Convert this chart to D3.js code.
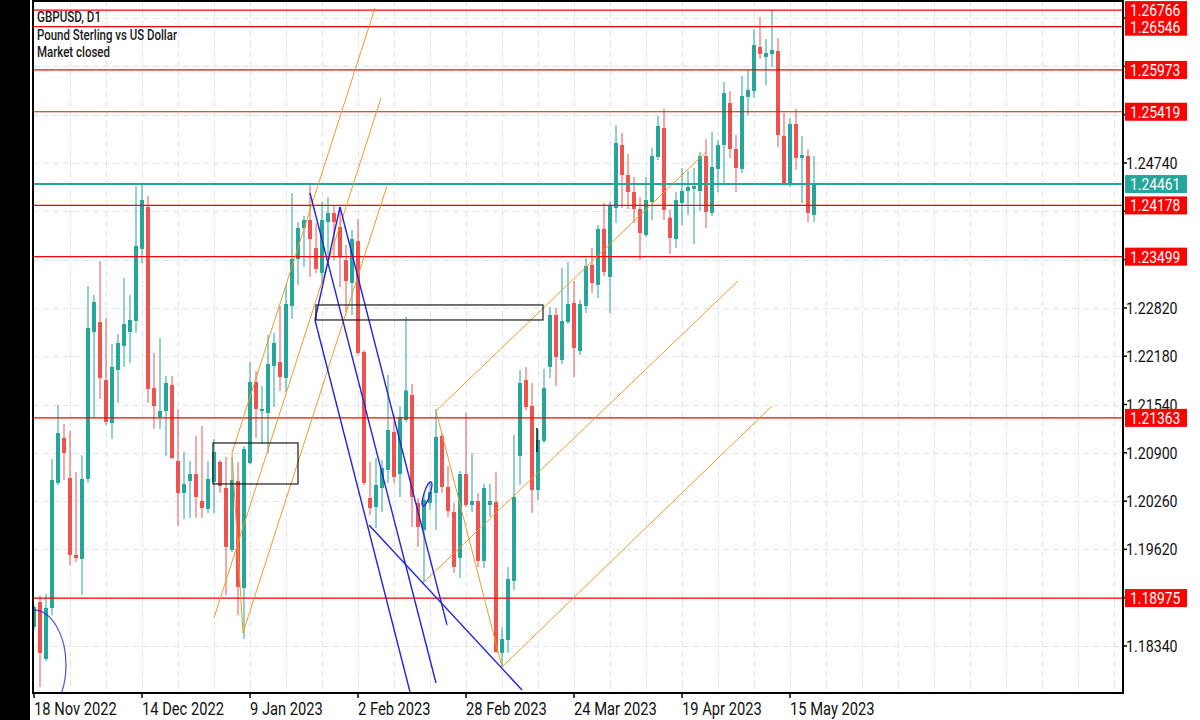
<!DOCTYPE html>
<html>
<head>
<meta charset="utf-8">
<script src="https://cdn.jsdelivr.net/npm/d3@7"></script>
<style>
  html, body { margin: 0; padding: 0; background: #fff; }
  svg { display: block; font-family: Roboto, "Noto Sans", sans-serif; }
</style>
</head>
<body>
<svg id="chart" width="1200" height="720"></svg>
<script>
// GBPUSD daily bars, first bar = Fri 18 Nov 2022, one bar per weekday
const opens = [
  1.18592, 1.18923, 1.18168, 1.18844, 1.20500, 1.21097, 1.20567, 1.19546, 1.19493, 1.20553,
  1.22501, 1.22633, 1.21865, 1.21295, 1.21998, 1.22316, 1.22501, 1.22647, 1.23601, 1.24157,
  1.21759, 1.21375, 1.21454, 1.21799, 1.20792, 1.20368, 1.20527, 1.20619, 1.20262, 1.20156,
  1.20514, 1.20778, 1.20434, 1.19613, 1.20527, 1.19109, 1.20765, 1.21838, 1.21454, 1.21428,
  1.22050, 1.22103, 1.21892, 1.22845, 1.23468, 1.23879, 1.23985, 1.23614, 1.23283, 1.23958,
  1.24078, 1.23892, 1.23455, 1.23150, 1.23707, 1.22236, 1.20302, 1.20182, 1.20434, 1.20672,
  1.21176, 1.20619, 1.21335, 1.21666, 1.20235, 1.19878, 1.20235, 1.20368, 1.21123, 1.20447,
  1.20116, 1.19507, 1.20619, 1.20209, 1.20262, 1.19467, 1.20209, 1.20248, 1.18248, 1.18420,
  1.19202, 1.20858, 1.21865, 1.21520, 1.20408, 1.21057, 1.22037, 1.22726, 1.22130, 1.22633,
  1.22885, 1.22249, 1.22845, 1.23389, 1.23124, 1.23866, 1.23230, 1.24144, 1.24979, 1.24581,
  1.24356, 1.24131, 1.23786, 1.24223, 1.24820, 1.25204, 1.24015, 1.23733, 1.24210, 1.24369,
  1.24396, 1.24369, 1.24833, 1.24078, 1.24661, 1.24979, 1.25535, 1.24926, 1.24661, 1.25615,
  1.25694, 1.26277, 1.26145, 1.26185, 1.26224, 1.25098, 1.24449, 1.25257, 1.24807, 1.24833,
  1.24051
];
const highs = [
  1.18884, 1.19010, 1.19029, 1.20818, 1.21534, 1.21282, 1.21189, 1.20646, 1.20871, 1.23110,
  1.22991, 1.23442, 1.22686, 1.22342, 1.22474, 1.23217, 1.22991, 1.24436, 1.24449, 1.24303,
  1.22223, 1.22422, 1.21918, 1.21918, 1.21481, 1.20911, 1.20792, 1.21123, 1.21256, 1.20792,
  1.21083, 1.20805, 1.20845, 1.20845, 1.20778, 1.20990, 1.22103, 1.21984, 1.21786, 1.22461,
  1.22488, 1.22845, 1.23124, 1.24343, 1.23958, 1.24038, 1.24475, 1.23945, 1.24223, 1.24290,
  1.24184, 1.24118, 1.23654, 1.23853, 1.23998, 1.22263, 1.20778, 1.20832, 1.20805, 1.21931,
  1.21401, 1.21520, 1.22700, 1.21812, 1.20302, 1.20368, 1.20500, 1.21481, 1.21163, 1.20726,
  1.20235, 1.20659, 1.21428, 1.20898, 1.20368, 1.20487, 1.20487, 1.20646, 1.18592, 1.19387,
  1.21136, 1.21998, 1.22037, 1.21825, 1.21216, 1.22011, 1.22832, 1.22819, 1.23349, 1.23429,
  1.23177, 1.22925, 1.23482, 1.23614, 1.23919, 1.24210, 1.24223, 1.25244, 1.25138, 1.24860,
  1.24555, 1.24290, 1.24555, 1.24939, 1.25363, 1.25458, 1.24118, 1.24356, 1.24674, 1.24634,
  1.24674, 1.24886, 1.25058, 1.25151, 1.25045, 1.25814, 1.25694, 1.25111, 1.25893, 1.25973,
  1.26516, 1.26675, 1.26383, 1.26766, 1.26397, 1.25403, 1.25337, 1.25458, 1.25098, 1.24926,
  1.24833
];
const lows = [
  1.18552, 1.17797, 1.18142, 1.18749, 1.20474, 1.20540, 1.19414, 1.19454, 1.19016, 1.20500,
  1.21362, 1.21613, 1.21269, 1.21083, 1.21560, 1.22037, 1.22090, 1.22488, 1.23415, 1.21560,
  1.21216, 1.21216, 1.20858, 1.20818, 1.19930, 1.20023, 1.20037, 1.20037, 1.20037, 1.20103,
  1.20103, 1.20368, 1.19016, 1.19586, 1.18749, 1.18433, 1.20752, 1.21097, 1.21017, 1.20898,
  1.21507, 1.21719, 1.21706, 1.22673, 1.23124, 1.23362, 1.23230, 1.23283, 1.23150, 1.23521,
  1.23455, 1.23097, 1.22766, 1.22726, 1.22196, 1.20474, 1.20076, 1.19904, 1.20116, 1.20500,
  1.20500, 1.20315, 1.21308, 1.19917, 1.19652, 1.19188, 1.20142, 1.19878, 1.20368, 1.20050,
  1.19308, 1.19241, 1.20182, 1.20116, 1.19387, 1.19374, 1.20050, 1.18248, 1.18062, 1.18248,
  1.19083, 1.20474, 1.21468, 1.20103, 1.20275, 1.21030, 1.21892, 1.21786, 1.22077, 1.22607,
  1.21905, 1.22196, 1.22753, 1.23018, 1.22952, 1.23243, 1.22753, 1.23945, 1.24144, 1.24131,
  1.23945, 1.23455, 1.23760, 1.23985, 1.24780, 1.23985, 1.23535, 1.23614, 1.23919, 1.24051,
  1.23667, 1.24104, 1.23879, 1.24038, 1.24356, 1.24475, 1.24807, 1.24356, 1.24608, 1.25376,
  1.25602, 1.26118, 1.25774, 1.26012, 1.24952, 1.24436, 1.24422, 1.24648, 1.24210, 1.23955,
  1.23955
];
const closes = [
  1.18857, 1.18248, 1.18844, 1.20540, 1.21163, 1.20898, 1.19546, 1.19507, 1.20553, 1.22554,
  1.22898, 1.21892, 1.21308, 1.22037, 1.22355, 1.22607, 1.22660, 1.23641, 1.24250, 1.21746,
  1.21520, 1.21454, 1.21825, 1.20832, 1.20368, 1.20487, 1.20619, 1.20315, 1.20169, 1.20553,
  1.20911, 1.20460, 1.19652, 1.20540, 1.19122, 1.20951, 1.21838, 1.21481, 1.21481, 1.22077,
  1.22355, 1.21905, 1.22872, 1.23468, 1.23879, 1.23985, 1.23733, 1.23336, 1.23985, 1.24078,
  1.23958, 1.23495, 1.23177, 1.23733, 1.22223, 1.20500, 1.20169, 1.20474, 1.20699, 1.21202,
  1.20580, 1.21375, 1.21725, 1.20315, 1.19917, 1.20275, 1.20381, 1.21110, 1.20447, 1.20129,
  1.19387, 1.20619, 1.20209, 1.20262, 1.19467, 1.20434, 1.20262, 1.18261, 1.18433, 1.19228,
  1.20315, 1.21825, 1.21507, 1.20408, 1.21070, 1.21759, 1.22726, 1.22170, 1.22647, 1.22872,
  1.22289, 1.22872, 1.23376, 1.23150, 1.23866, 1.23296, 1.24171, 1.25005, 1.24581, 1.24356,
  1.24131, 1.23813, 1.24250, 1.24833, 1.25231, 1.24118, 1.23747, 1.24250, 1.24369, 1.24422,
  1.24436, 1.24833, 1.24091, 1.24687, 1.24979, 1.25668, 1.24926, 1.24674, 1.25628, 1.25708,
  1.26304, 1.26185, 1.26198, 1.26238, 1.25111, 1.24462, 1.25257, 1.24807, 1.24846, 1.24078,
  1.24461
];

// axis labels
const dateTickBars = [0, 18, 36, 54, 72, 90, 108, 126];
const dateTickLabels = ["18 Nov 2022", "14 Dec 2022", "9 Jan 2023", "2 Feb 2023",
  "28 Feb 2023", "24 Mar 2023", "19 Apr 2023", "15 May 2023"];
const priceTicks = [1.18340, 1.18980, 1.19620, 1.20260, 1.20900, 1.21540, 1.22180,
  1.22820, 1.23460, 1.24100, 1.24740, 1.25380, 1.26020, 1.26660];

// horizontal levels drawn on the chart
const levelPrices = [1.26766, 1.26546, 1.25973, 1.25419, 1.24178, 1.23499, 1.21363, 1.18975];
const bidPrice = 1.24461;

// drawings as [bar, price] anchors
const orangeLines = [
  [[33, 1.20898], [56.83, 1.26794]],
  [[30, 1.18712], [57.83, 1.25602]],
  [[34.83, 1.18513], [58.83, 1.24436]],
  [[33, 1.20898], [34.83, 1.18513]],
  [[67, 1.21454], [112, 1.24886]],
  [[64.83, 1.19175], [117.33, 1.23177]],
  [[78, 1.18062], [123, 1.21521]],
  [[67, 1.21454], [78, 1.18062]]
];
const blueLines = [
  [[46, 1.24343], [67, 1.17850]],
  [[51, 1.24157], [68.83, 1.18619]],
  [[46.83, 1.22660], [62.67, 1.17731]],
  [[46.83, 1.22660], [51, 1.24157]],
  [[55.83, 1.19944], [81.33, 1.17758]]
];
const boxes = [
  [[29.83, 1.21030], [44, 1.20487]],
  [[47, 1.22859], [84.83, 1.22660]]
];
const markerLine = [[83.83, 1.21229], [83.83, 1.20911]];
const blueArc = { center: [-0.17, 1.18089], bars: 5.5, price: 0.00729 };
const blueLoop = { center: [65.5, 1.20355], bars: 0.5, price: 0.0017 };

const PLOT = { left: 33, right: 1123, top: 1, bottom: 693 };
const BULL = "#26a69a", BEAR = "#ef5350";
const LEVEL_RED = "#ff0000";
const ORANGE = "#ec9a2a", BLUE = "#2424d8";

const bars = closes.map((c, i) => ({ i, o: opens[i], h: highs[i], l: lows[i], c }));

const x = d3.scaleLinear().domain([0, 130]).range([34, 814]);
const y = d3.scaleLinear().domain([1.2474, 1.1834]).range([163, 646]);
const fmt = d3.format(".5f");

const svg = d3.select("#chart");

function condense(selection, factor) {
  selection.each(function () {
    const w = this.getComputedTextLength();
    d3.select(this).attr("textLength", w * factor).attr("lengthAdjust", "spacingAndGlyphs");
  });
}

svg.append("rect").attr("width", 1200).attr("height", 720).attr("fill", "#fff");
svg.append("rect").attr("width", 30).attr("height", 720).attr("fill", "#000");

svg.append("defs").append("clipPath").attr("id", "plot-clip")
  .append("rect")
    .attr("x", PLOT.left).attr("y", PLOT.top)
    .attr("width", PLOT.right - PLOT.left).attr("height", PLOT.bottom - PLOT.top);

const plot = svg.append("g").attr("clip-path", "url(#plot-clip)");

// dashed grid
plot.append("g")
    .attr("stroke", "#dde4eb")
    .attr("stroke-dasharray", "6,4")
  .selectAll("line")
  .data(priceTicks)
  .join("line")
    .attr("x1", PLOT.left).attr("x2", PLOT.right)
    .attr("y1", d => Math.round(y(d)) + 0.5).attr("y2", d => Math.round(y(d)) + 0.5);

plot.append("g")
    .attr("stroke", "#dde4eb")
    .attr("stroke-dasharray", "6,4")
  .selectAll("line")
  .data(d3.range(6, 186, 6))
  .join("line")
    .attr("x1", d => x(d) + 0.5).attr("x2", d => x(d) + 0.5)
    .attr("y1", PLOT.top).attr("y2", PLOT.bottom);

// candles
const candle = plot.append("g").selectAll("g").data(bars).join("g");

candle.append("line")
    .attr("x1", d => x(d.i)).attr("x2", d => x(d.i))
    .attr("y1", d => y(d.h)).attr("y2", d => y(d.l))
    .attr("stroke", d => d.c >= d.o ? BULL : BEAR)
    .attr("stroke-opacity", 0.5)
    .attr("stroke-width", 2);

candle.append("rect")
    .attr("x", d => x(d.i) - 2)
    .attr("width", 4)
    .attr("y", d => y(Math.max(d.o, d.c)))
    .attr("height", d => Math.max(1.5, Math.abs(y(d.o) - y(d.c))))
    .attr("fill", d => d.c >= d.o ? BULL : BEAR);

// horizontal levels
plot.append("g")
  .selectAll("line")
  .data(levelPrices)
  .join("line")
    .attr("x1", PLOT.left).attr("x2", PLOT.right)
    .attr("y1", d => y(d)).attr("y2", d => y(d))
    .attr("stroke", LEVEL_RED)
    .attr("stroke-width", 1.2);

plot.append("line")
    .attr("x1", PLOT.left).attr("x2", PLOT.right)
    .attr("y1", y(bidPrice)).attr("y2", y(bidPrice))
    .attr("stroke", BULL)
    .attr("stroke-width", 2);

// trend drawings
const segment = d3.line().x(d => x(d[0])).y(d => y(d[1]));

plot.append("g").attr("fill", "none").attr("stroke", ORANGE).attr("stroke-width", 1)
  .selectAll("path").data(orangeLines).join("path").attr("d", segment);

plot.append("g").attr("fill", "none").attr("stroke", BLUE).attr("stroke-width", 1.4)
  .selectAll("path").data(blueLines).join("path").attr("d", segment);

plot.append("g").attr("fill", "none").attr("stroke", "#1a1a1a").attr("stroke-width", 1.2)
  .selectAll("rect").data(boxes).join("rect")
    .attr("x", d => x(d[0][0])).attr("y", d => y(d[0][1]))
    .attr("width", d => x(d[1][0]) - x(d[0][0]))
    .attr("height", d => y(d[1][1]) - y(d[0][1]));

plot.append("path").attr("d", segment(markerLine))
    .attr("stroke", "#1a1a1a").attr("stroke-width", 1.5);

function ellipse(spec) {
  return plot.append("ellipse")
      .attr("cx", x(spec.center[0])).attr("cy", y(spec.center[1]))
      .attr("rx", x(spec.bars) - x(0))
      .attr("ry", y(spec.center[1] - spec.price) - y(spec.center[1]))
      .attr("fill", "none").attr("stroke", BLUE);
}
ellipse(blueArc).attr("stroke-width", 1.2).attr("stroke-opacity", 0.8);
ellipse(blueLoop).attr("stroke-width", 1.2)
    .attr("transform", `rotate(18 ${x(blueLoop.center[0])} ${y(blueLoop.center[1])})`);

// frame
svg.append("rect")
    .attr("x", PLOT.left).attr("y", PLOT.top)
    .attr("width", PLOT.right - PLOT.left).attr("height", PLOT.bottom - PLOT.top)
    .attr("fill", "none").attr("stroke", "#000").attr("stroke-width", 2);

// price axis: tick labels that sit under a price tag are hidden, as on the terminal
const tagPrices = levelPrices.concat([bidPrice]);
const visibleTicks = priceTicks.filter(t => tagPrices.every(p => Math.abs(y(p) - y(t)) > 11));

const yAxis = svg.append("g");
yAxis.selectAll("line").data(priceTicks).join("line")
    .attr("x1", PLOT.right).attr("x2", PLOT.right + 4)
    .attr("y1", d => y(d)).attr("y2", d => y(d))
    .attr("stroke", "#000").attr("stroke-width", 1.5);
yAxis.selectAll("text").data(visibleTicks).join("text")
    .attr("x", PLOT.right + 3).attr("y", d => y(d) + 6)
    .attr("font-size", 16.5).attr("fill", "#111")
    .text(fmt)
    .call(condense, 0.86);

function priceTag(price, color) {
  const g = svg.append("g");
  g.append("rect")
      .attr("x", 1125).attr("y", y(price) - 9)
      .attr("width", 62).attr("height", 18)
      .attr("fill", color);
  g.append("text")
      .attr("x", 1130).attr("y", y(price) + 6)
      .attr("font-size", 16.5).attr("fill", "#fff")
      .text(fmt(price))
      .call(condense, 0.84);
}
levelPrices.forEach(p => priceTag(p, LEVEL_RED));
priceTag(bidPrice, BULL);

// date axis
const xAxis = svg.append("g");
xAxis.selectAll("line").data(dateTickBars).join("line")
    .attr("x1", d => x(d)).attr("x2", d => x(d))
    .attr("y1", PLOT.bottom).attr("y2", PLOT.bottom + 5)
    .attr("stroke", "#000").attr("stroke-width", 1.5);
xAxis.selectAll("text").data(dateTickBars).join("text")
    .attr("x", d => x(d)).attr("y", 715)
    .attr("font-size", 17.5).attr("fill", "#111")
    .text((d, i) => dateTickLabels[i])
    .call(condense, 0.84);

// symbol caption
const caption = [
  ["GBPUSD, D1", 22, 64],
  ["Pound Sterling vs US Dollar", 40, 140],
  ["Market closed", 57, 73]
];
svg.append("g")
  .selectAll("text")
  .data(caption)
  .join("text")
    .attr("x", 37).attr("y", d => d[1])
    .attr("font-size", 14.5).attr("font-weight", 500).attr("fill", "#1a1a1a")
    .attr("textLength", d => d[2]).attr("lengthAdjust", "spacingAndGlyphs")
    .text(d => d[0]);
</script>
</body>
</html>
